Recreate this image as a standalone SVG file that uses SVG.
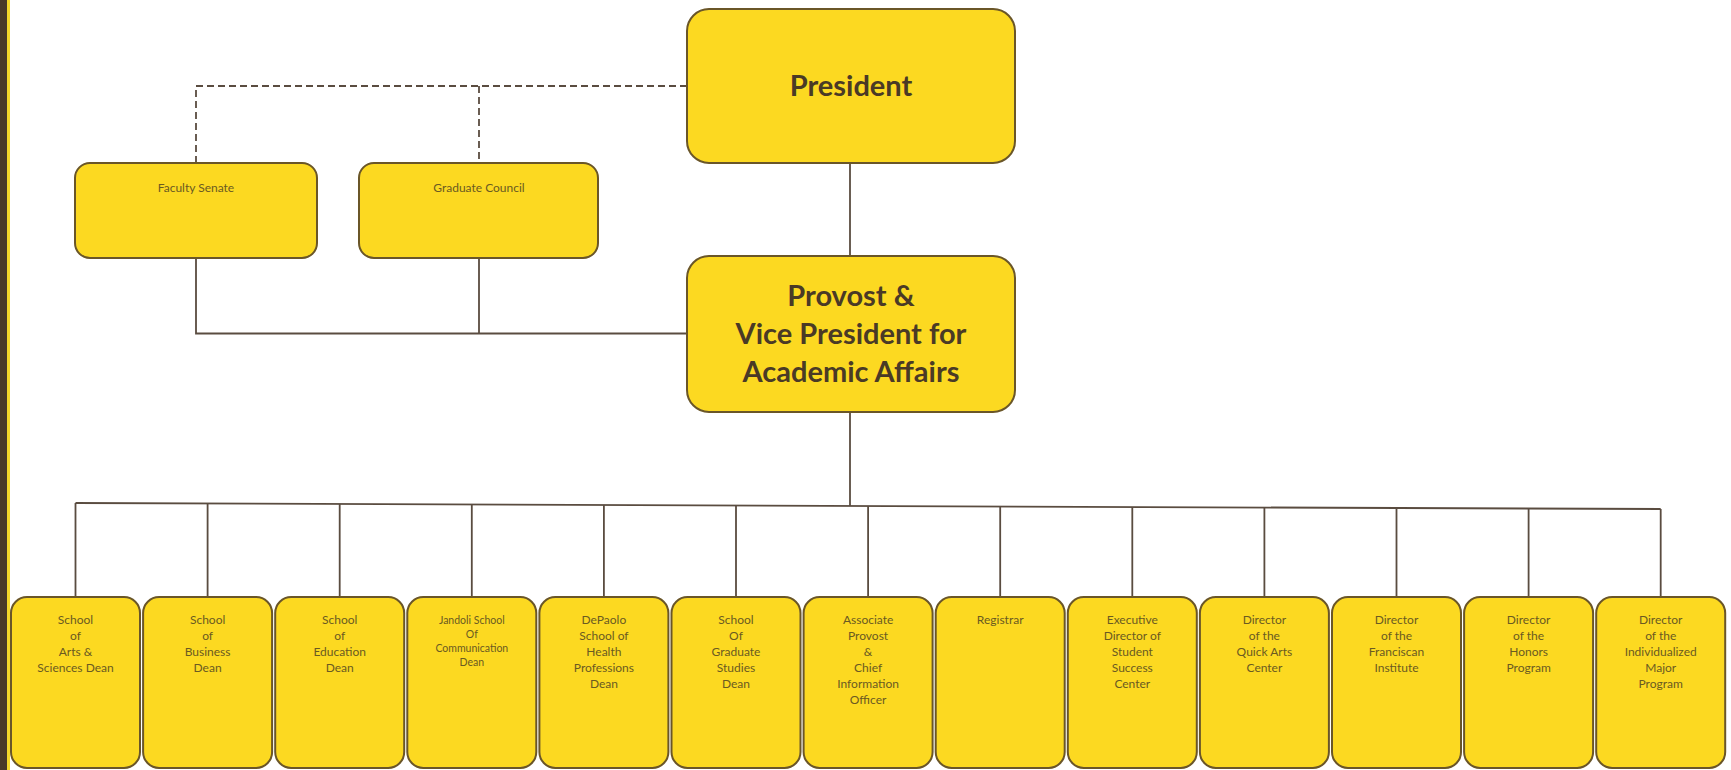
<svg xmlns="http://www.w3.org/2000/svg" width="1731" height="770" viewBox="0 0 1731 770">
<style>
.box{fill:#FCD921;stroke:#6a5628;stroke-width:2}
.big{font-family:Lato,"Open Sans","Liberation Sans",sans-serif;font-weight:bold;font-size:29px;fill:#4a3a26;text-anchor:middle}
.sm{font-family:Lato,"Open Sans","Liberation Sans",sans-serif;font-size:12px;fill:#6a5a22;text-anchor:middle}
.xs{font-family:Lato,"Open Sans","Liberation Sans",sans-serif;font-size:10.5px;fill:#6a5a22;text-anchor:middle}
.ln{stroke:#5a4c40;stroke-width:1.8;fill:none}
.dash{stroke:#5a4c40;stroke-width:1.8;fill:none;stroke-dasharray:7 4}
</style>
<rect x="0" y="0" width="1731" height="770" fill="#ffffff"/>
<rect x="0" y="0" width="7" height="770" fill="#4a3828"/>
<rect x="7" y="0" width="3" height="770" fill="#F5D62A"/>
<g id="connectors">
<path class="dash" d="M687 86 H196 V163 M479 86 V163"/>
<path class="ln" d="M196 258 V333.5 H687 M479 258 V333.5"/>
<path class="ln" d="M850 163 V256"/>
<path class="ln" d="M850 412 V505.9"/>
<path class="ln" d="M75.5 503 L1660.7 509"/>
<path class="ln" d="M75.5 503 V597 M207.6 503.5 V597 M339.7 504 V597 M471.8 504.5 V597 M603.9 505 V597 M736 505.5 V597 M868.1 506 V597 M1000.2 506.5 V597 M1132.3 507 V597 M1264.4 507.3 V597 M1396.5 507.8 V597 M1528.6 508.4 V597 M1660.7 509 V597"/>
</g>
<g id="president"><rect class="box" x="687" y="9" width="328" height="154" rx="22"/><text class="big" x="851" y="96">President</text></g>
<g id="provost"><rect class="box" x="687" y="256" width="328" height="156" rx="22"/><text class="big" x="851" y="306">Provost &amp;</text><text class="big" x="851" y="344">Vice President for</text><text class="big" x="851" y="382">Academic Affairs</text></g>
<g id="faculty-senate"><rect class="box" x="75" y="163" width="242" height="95" rx="15"/><text class="sm" x="196" y="192">Faculty Senate</text></g>
<g id="graduate-council"><rect class="box" x="359" y="163" width="239" height="95" rx="15"/><text class="sm" x="479" y="192">Graduate Council</text></g>
<g id="arts-sciences"><rect class="box" x="11" y="597" width="129" height="171" rx="16"/><text class="sm" x="75.5" y="624">School</text><text class="sm" x="75.5" y="640">of</text><text class="sm" x="75.5" y="656">Arts &amp;</text><text class="sm" x="75.5" y="672">Sciences Dean</text></g>
<g id="business"><rect class="box" x="143.1" y="597" width="129" height="171" rx="16"/><text class="sm" x="207.6" y="624">School</text><text class="sm" x="207.6" y="640">of</text><text class="sm" x="207.6" y="656">Business</text><text class="sm" x="207.6" y="672">Dean</text></g>
<g id="education"><rect class="box" x="275.2" y="597" width="129" height="171" rx="16"/><text class="sm" x="339.7" y="624">School</text><text class="sm" x="339.7" y="640">of</text><text class="sm" x="339.7" y="656">Education</text><text class="sm" x="339.7" y="672">Dean</text></g>
<g id="communication"><rect class="box" x="407.3" y="597" width="129" height="171" rx="16"/><text class="xs" x="471.8" y="623.5">Jandoli School</text><text class="xs" x="471.8" y="638">Of</text><text class="xs" x="471.8" y="651.5">Communication</text><text class="xs" x="471.8" y="665.5">Dean</text></g>
<g id="health"><rect class="box" x="539.4" y="597" width="129" height="171" rx="16"/><text class="sm" x="603.9" y="624">DePaolo</text><text class="sm" x="603.9" y="640">School of</text><text class="sm" x="603.9" y="656">Health</text><text class="sm" x="603.9" y="672">Professions</text><text class="sm" x="603.9" y="688">Dean</text></g>
<g id="graduate-studies"><rect class="box" x="671.5" y="597" width="129" height="171" rx="16"/><text class="sm" x="736" y="624">School</text><text class="sm" x="736" y="640">Of</text><text class="sm" x="736" y="656">Graduate</text><text class="sm" x="736" y="672">Studies</text><text class="sm" x="736" y="688">Dean</text></g>
<g id="associate-provost"><rect class="box" x="803.6" y="597" width="129" height="171" rx="16"/><text class="sm" x="868.1" y="624">Associate</text><text class="sm" x="868.1" y="640">Provost</text><text class="sm" x="868.1" y="656">&amp;</text><text class="sm" x="868.1" y="672">Chief</text><text class="sm" x="868.1" y="688">Information</text><text class="sm" x="868.1" y="704">Officer</text></g>
<g id="registrar"><rect class="box" x="935.7" y="597" width="129" height="171" rx="16"/><text class="sm" x="1000.2" y="624">Registrar</text></g>
<g id="student-success"><rect class="box" x="1067.8" y="597" width="129" height="171" rx="16"/><text class="sm" x="1132.3" y="624">Executive</text><text class="sm" x="1132.3" y="640">Director of</text><text class="sm" x="1132.3" y="656">Student</text><text class="sm" x="1132.3" y="672">Success</text><text class="sm" x="1132.3" y="688">Center</text></g>
<g id="quick-arts"><rect class="box" x="1199.9" y="597" width="129" height="171" rx="16"/><text class="sm" x="1264.4" y="624">Director</text><text class="sm" x="1264.4" y="640">of the</text><text class="sm" x="1264.4" y="656">Quick Arts</text><text class="sm" x="1264.4" y="672">Center</text></g>
<g id="franciscan"><rect class="box" x="1332" y="597" width="129" height="171" rx="16"/><text class="sm" x="1396.5" y="624">Director</text><text class="sm" x="1396.5" y="640">of the</text><text class="sm" x="1396.5" y="656">Franciscan</text><text class="sm" x="1396.5" y="672">Institute</text></g>
<g id="honors"><rect class="box" x="1464.1" y="597" width="129" height="171" rx="16"/><text class="sm" x="1528.6" y="624">Director</text><text class="sm" x="1528.6" y="640">of the</text><text class="sm" x="1528.6" y="656">Honors</text><text class="sm" x="1528.6" y="672">Program</text></g>
<g id="individualized"><rect class="box" x="1596.2" y="597" width="129" height="171" rx="16"/><text class="sm" x="1660.7" y="624">Director</text><text class="sm" x="1660.7" y="640">of the</text><text class="sm" x="1660.7" y="656">Individualized</text><text class="sm" x="1660.7" y="672">Major</text><text class="sm" x="1660.7" y="688">Program</text></g>
</svg>
